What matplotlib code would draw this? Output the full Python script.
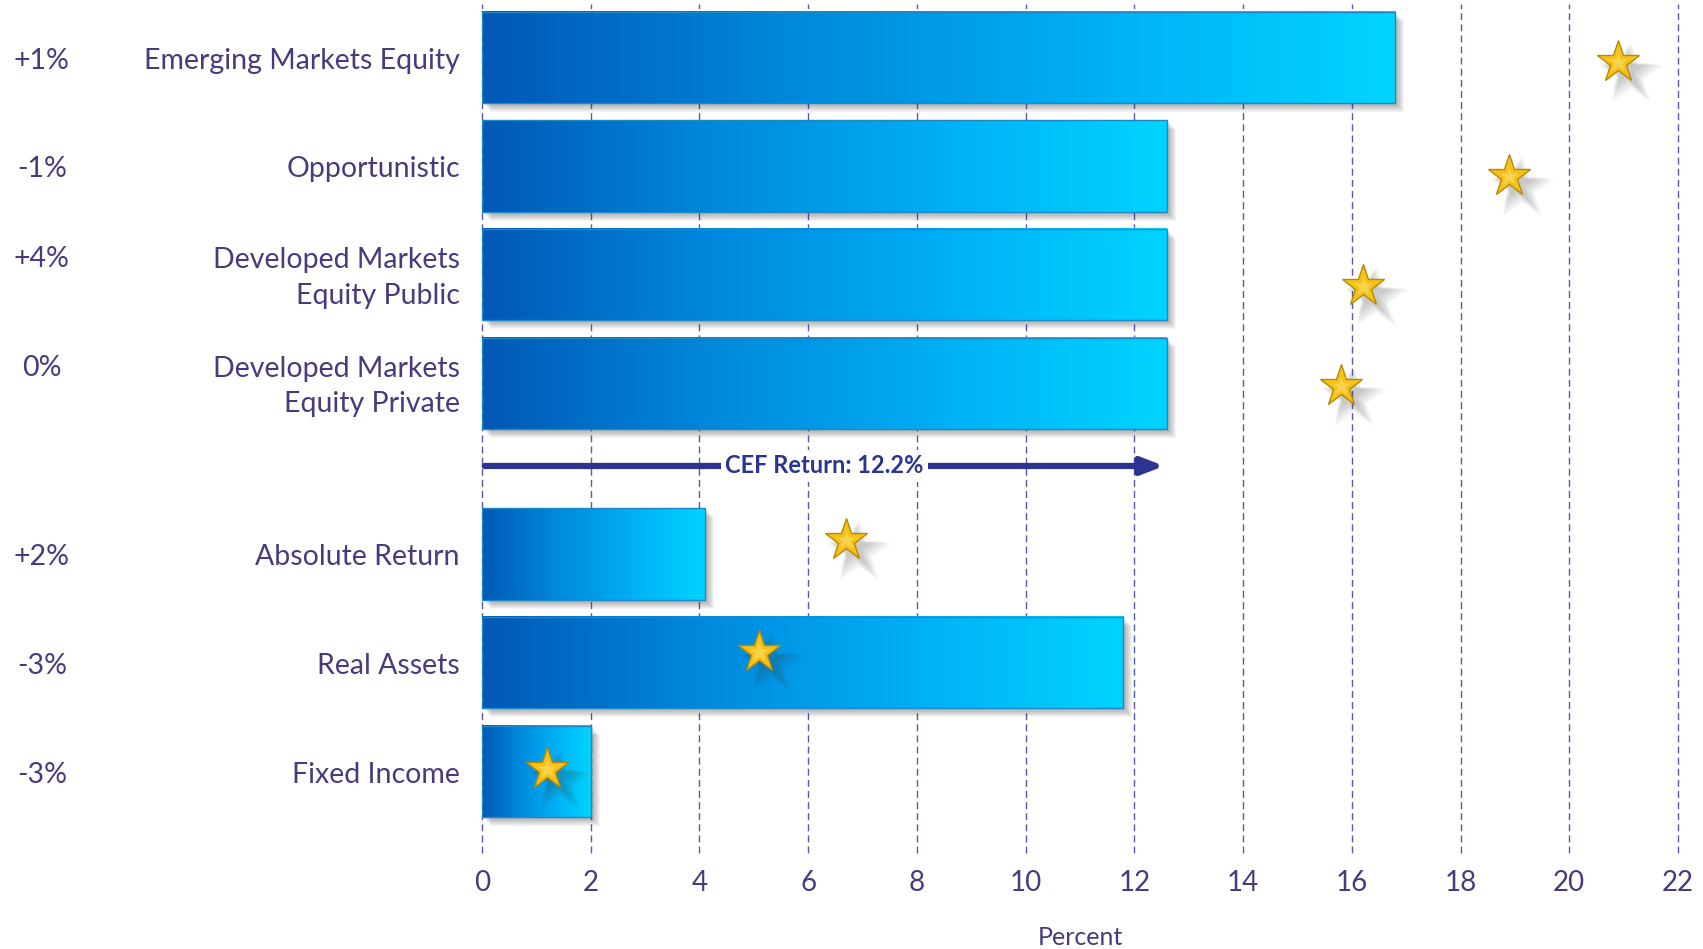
import matplotlib
matplotlib.use('Agg')
import matplotlib.pyplot as plt
import numpy as np
from matplotlib.patches import Rectangle
from matplotlib import transforms
from matplotlib.colors import LinearSegmentedColormap

# ---- data ----
categories = ['Emerging Markets Equity', 'Opportunistic',
              'Developed Markets\nEquity Public', 'Developed Markets\nEquity Private',
              'Absolute Return', 'Real Assets', 'Fixed Income']
changes = ['+1%', '-1%', '+4%', '0%', '+2%', '-3%', '-3%']
returns = [16.8, 12.6, 12.6, 12.6, 4.1, 11.8, 2.0]
benchmarks = [20.9, 18.9, 16.2, 15.8, 6.7, 5.1, 1.2]
cef_return = 12.2
xticks = list(range(0, 23, 2))

# rows: 4 equity rows, a gap for the CEF arrow, then 3 more
ypos = [0, 1, 2, 3, 4.57, 5.57, 6.57]
star_dy = [0.04, 0.09, 0.1, 0.02, -0.13, -0.1, -0.02]
arrow_y = 3.76
bar_h = 0.84

text_col = '#4a3a7c'
grid_col = '#3c3c9c'
navy = '#2b3590'
font = ['Lato', 'DejaVu Sans']

fig = plt.figure(figsize=(17.03, 9.49), dpi=100)
ax = fig.add_axes([0.2830, 0.1012, 0.7023, 0.8946])

grad = LinearSegmentedColormap.from_list('bar', ['#0058b6', '#0088dc', '#00aef5', '#00d4ff'])
g = np.linspace(0, 1, 256).reshape(1, -1)

for x in xticks:
    ax.axvline(x, color=grid_col, lw=1.0, ls=(0, (5, 3)), alpha=0.85, zorder=0, clip_on=False)

for y, v in zip(ypos, returns):
    # soft drop shadow
    for k in range(8):
        off = transforms.offset_copy(ax.transData, fig=fig, x=2 + k, y=-2 - k, units='dots')
        ax.add_patch(Rectangle((0, y - bar_h / 2), v, bar_h, transform=off,
                               facecolor='#303030', edgecolor='none', alpha=0.05, zorder=1))
    ax.imshow(g, cmap=grad, extent=[0, v, y + bar_h / 2, y - bar_h / 2],
              aspect='auto', interpolation='bilinear', zorder=2)
    ax.add_patch(Rectangle((0, y - bar_h / 2), v, bar_h, facecolor='none',
                           edgecolor='#1b88c8', lw=1.0, zorder=3))

# stars with blurred shadow
for y, dy, b in zip(ypos, star_dy, benchmarks):
    for k in range(7):
        off = transforms.offset_copy(ax.transData, fig=fig, x=7 + k, y=-7 - k, units='dots')
        ax.plot(b, y + dy, marker='*', ms=30 + 3 * k, color='#404040', alpha=0.045,
                mec='none', transform=off, zorder=4)
    ax.plot(b, y + dy, marker='*', ms=32, color='#f4c21a', mec='#b88a00', mew=1.0, zorder=5)
    ax.plot(b, y + dy, marker='*', ms=14, color='#ffe070', mec='none', alpha=0.6, zorder=5)

# CEF return arrow
ax.annotate('', xy=(cef_return + 0.35, arrow_y), xytext=(0.05, arrow_y),
            arrowprops=dict(arrowstyle='-|>,head_length=1.3,head_width=0.5',
                            lw=4.5, color=navy, shrinkA=0, shrinkB=0), zorder=6)
ax.text(6.3, arrow_y, 'CEF Return: 12.2%', ha='center', va='center', fontsize=17,
        fontweight='bold', color=navy, family=font, zorder=7,
        bbox=dict(facecolor='white', edgecolor='none', pad=3))

# labels on the left
for y, c, ch in zip(ypos, categories, changes):
    ax.text(-0.0184, y + 0.03, c, transform=ax.get_yaxis_transform(), ha='right', va='center',
            fontsize=20.5, color=text_col, family=font, linespacing=1.45)
    py = y - 0.14 if '\n' in c else y + 0.03
    ax.text(-0.368, py, ch, transform=ax.get_yaxis_transform(), ha='center', va='center',
            fontsize=20.5, color=text_col, family=font)

ax.set_xlim(0, 22)
ax.set_ylim(7.32, -0.49)
ax.set_xticks(xticks)
ax.set_xticklabels([str(t) for t in xticks], family=font, fontsize=20, color=text_col)
ax.tick_params(axis='x', length=0, pad=12)
ax.set_yticks([])
for s in ax.spines.values():
    s.set_visible(False)
ax.set_xlabel('Percent', family=font, fontsize=18, color=text_col, labelpad=22)

fig.savefig('out.png', dpi=100, facecolor='white')
